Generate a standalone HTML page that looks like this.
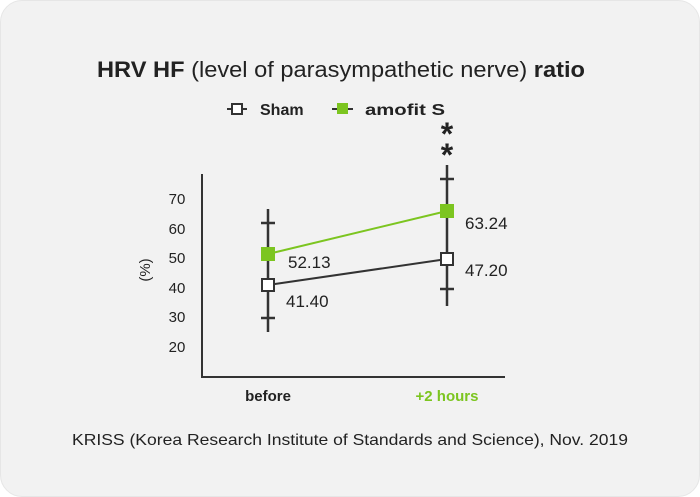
<!DOCTYPE html>
<html><head><style>
body{margin:0;background:#fff;}
.card{position:absolute;left:0;top:0;width:698px;height:495px;border:1px solid #e6e6e6;border-radius:22px;background:#f2f2f2;}
</style></head><body>
<div class="card"></div>
<svg width="700" height="497" style="position:absolute;left:0;top:0" font-family="'Liberation Sans',sans-serif">
<text x="97" y="77" font-size="22" fill="#222" textLength="488" lengthAdjust="spacingAndGlyphs"><tspan font-weight="bold">HRV HF</tspan> (level of parasympathetic nerve) <tspan font-weight="bold">ratio</tspan></text>
<!-- legend -->
<line x1="227" y1="109" x2="247" y2="109" stroke="#333" stroke-width="2"/>
<rect x="232" y="104" width="10" height="10" fill="#fff" stroke="#333" stroke-width="2"/>
<text x="260" y="115" font-size="16" font-weight="bold" fill="#222">Sham</text>
<line x1="332" y1="109" x2="353" y2="109" stroke="#333" stroke-width="2"/>
<rect x="337" y="103" width="11" height="11" fill="#7cc520"/>
<text x="365" y="115" font-size="16" font-weight="bold" fill="#222" textLength="80" lengthAdjust="spacingAndGlyphs">amofit S</text>
<!-- axes -->
<line x1="202" y1="174" x2="202" y2="378" stroke="#333" stroke-width="2"/>
<line x1="201" y1="377" x2="505" y2="377" stroke="#333" stroke-width="2"/>
<g font-size="15" fill="#222" text-anchor="middle">
<text x="177" y="204">70</text><text x="177" y="234">60</text><text x="177" y="263">50</text>
<text x="177" y="293">40</text><text x="177" y="322">30</text><text x="177" y="352">20</text>
</g>
<text transform="translate(150,270) rotate(-90)" font-size="15" fill="#222" text-anchor="middle">(%)</text>
<!-- error bars -->
<g stroke="#333" stroke-width="2.5">
<line x1="268" y1="209" x2="268" y2="332"/><line x1="261" y1="223" x2="275" y2="223"/><line x1="261" y1="318" x2="275" y2="318"/>
<line x1="447" y1="165" x2="447" y2="306"/><line x1="440" y1="179" x2="454" y2="179"/><line x1="440" y1="289" x2="454" y2="289"/>
</g>
<line x1="268" y1="285" x2="447" y2="259" stroke="#333" stroke-width="2"/>
<line x1="268" y1="254" x2="447" y2="211" stroke="#7cc520" stroke-width="2"/>
<rect x="261" y="247" width="14" height="14" fill="#7cc520"/>
<rect x="440" y="204" width="14" height="14" fill="#7cc520"/>
<rect x="262" y="279" width="12" height="12" fill="#fff" stroke="#333" stroke-width="2"/>
<rect x="441" y="253" width="12" height="12" fill="#fff" stroke="#333" stroke-width="2"/>
<g font-size="17" fill="#222">
<text x="288" y="268">52.13</text><text x="286" y="307">41.40</text>
<text x="465" y="229">63.24</text><text x="465" y="276">47.20</text>
</g>
<text x="447" y="145" font-size="32" font-weight="bold" text-anchor="middle" fill="#222">*</text>
<text x="447" y="166" font-size="32" font-weight="bold" text-anchor="middle" fill="#222">*</text>
<text x="268" y="401" font-size="15" font-weight="bold" text-anchor="middle" fill="#222">before</text>
<text x="447" y="401" font-size="15" font-weight="bold" text-anchor="middle" fill="#7cc520">+2 hours</text>
<text x="72" y="445" font-size="16" fill="#222" textLength="556" lengthAdjust="spacingAndGlyphs">KRISS (Korea Research Institute of Standards and Science), Nov. 2019</text>
</svg>
</body></html>
